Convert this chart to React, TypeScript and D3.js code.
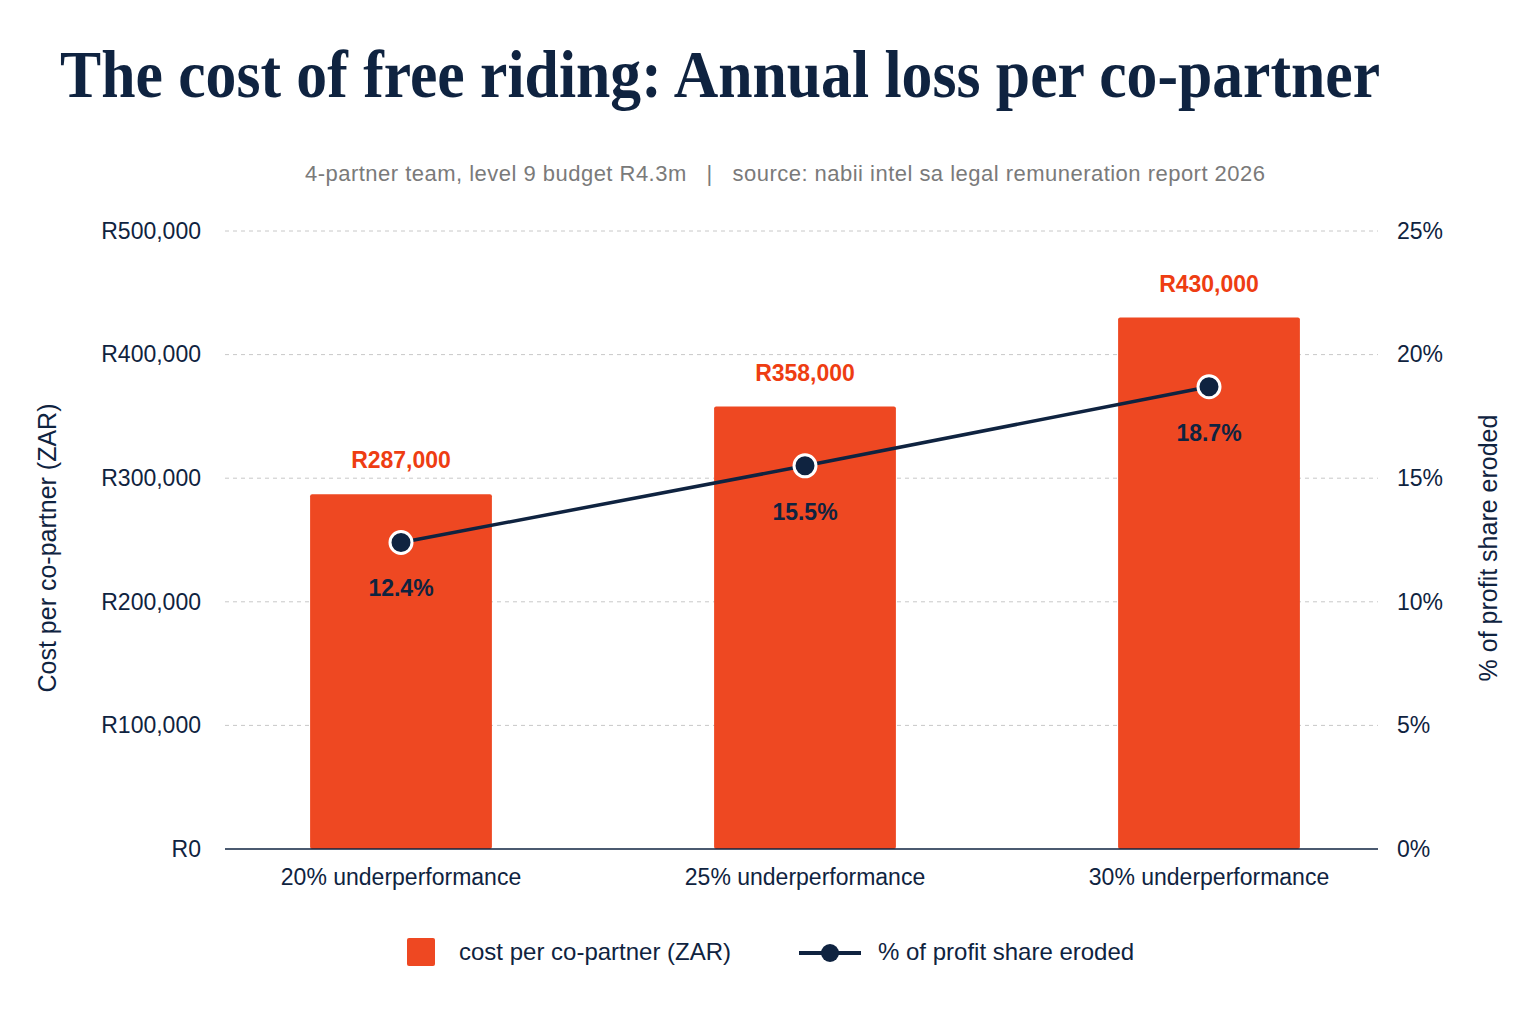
import React, { useRef, useEffect } from "react";
import { select, scaleBand, scaleLinear, axisLeft, axisRight, line } from "d3";

const categories = ["20% underperformance", "25% underperformance", "30% underperformance"];
const costValues = [287000, 358000, 430000];
const costLabels = ["R287,000", "R358,000", "R430,000"];
const erodedValues = [12.4, 15.5, 18.7];
const leftTicks = [0, 100000, 200000, 300000, 400000, 500000];
const rightTicks = [0, 5, 10, 15, 20, 25];

const W = 1536;
const H = 1024;
const NAVY = "#0f2340";
const ORANGE = "#ee4822";
const RED_TEXT = "#ee3d12";
const FONT = "'Liberation Sans', Arial, sans-serif";

const App: React.FC = () => {
  const svgRef = useRef<SVGSVGElement>(null);

  useEffect(() => {
    const svg = select(svgRef.current);
    svg.selectAll("*").remove();

    const x = scaleBand<string>().domain(categories).range([199, 1411])
      .paddingInner(0.55).paddingOuter(0.275);
    const y = scaleLinear().domain([0, 500000]).range([849, 231]);
    const y2 = scaleLinear().domain([0, 25]).range([849, 231]);

    // titles
    svg.append("text").attr("x", 60).attr("y", 97)
      .attr("textLength", 1320).attr("lengthAdjust", "spacingAndGlyphs")
      .style("font-family", "'Liberation Serif', 'DejaVu Serif', serif")
      .style("font-weight", 700).style("font-size", "68px").attr("fill", NAVY)
      .text("The cost of free riding: Annual loss per co-partner");
    svg.append("text").attr("x", 785).attr("y", 181).attr("text-anchor", "middle")
      .attr("textLength", 960).attr("lengthAdjust", "spacing")
      .style("font-family", FONT).style("font-size", "22px").attr("fill", "#7a7a7a")
      .attr("xml:space", "preserve")
      .text("4-partner team, level 9 budget R4.3m   |   source: nabii intel sa legal remuneration report 2026");

    // grid
    svg.append("g").selectAll("line").data(leftTicks.slice(1)).join("line")
      .attr("x1", 225).attr("x2", 1378).attr("y1", (d) => y(d)).attr("y2", (d) => y(d))
      .attr("stroke", "#c8c8c8").attr("stroke-dasharray", "4,4");

    // bars
    svg.append("g").selectAll("rect").data(costValues).join("rect")
      .attr("x", (_, i) => x(categories[i])!).attr("width", x.bandwidth())
      .attr("y", (d) => y(d)).attr("height", (d) => 849 - y(d))
      .attr("rx", 2).attr("fill", ORANGE);

    svg.append("g").selectAll("text").data(costValues).join("text")
      .attr("x", (_, i) => x(categories[i])! + x.bandwidth() / 2)
      .attr("y", (d) => y(d) - 26).attr("text-anchor", "middle")
      .style("font-family", FONT).style("font-weight", 700).style("font-size", "23px")
      .attr("fill", RED_TEXT).text((_, i) => costLabels[i]);

    // baseline
    svg.append("line").attr("x1", 225).attr("x2", 1378).attr("y1", 849).attr("y2", 849)
      .attr("stroke", NAVY).attr("stroke-width", 1.5);

    // axes
    const la = svg.append("g").attr("transform", "translate(201,0)")
      .call(axisLeft(y).tickValues(leftTicks).tickSize(0).tickPadding(0)
        .tickFormat((d) => "R" + (d as number).toLocaleString("en-US")));
    const ra = svg.append("g").attr("transform", "translate(1397,0)")
      .call(axisRight(y2).tickValues(rightTicks).tickSize(0).tickPadding(0)
        .tickFormat((d) => d + "%"));
    const xa = svg.append("g");
    xa.selectAll("text").data(categories).join("text")
      .attr("x", (d) => x(d)! + x.bandwidth() / 2).attr("y", 885).attr("text-anchor", "middle")
      .text((d) => d);
    [la, ra].forEach((a) => a.select(".domain").remove());
    [la, ra, xa].forEach((a) =>
      a.selectAll("text").style("font-family", FONT).style("font-size", "23px").attr("fill", NAVY));

    svg.append("text").attr("transform", "translate(56,548) rotate(-90)").attr("text-anchor", "middle")
      .style("font-family", FONT).style("font-size", "25px").attr("fill", NAVY)
      .text("Cost per co-partner (ZAR)");
    svg.append("text").attr("transform", "translate(1497,548) rotate(-90)").attr("text-anchor", "middle")
      .style("font-family", FONT).style("font-size", "25px").attr("fill", NAVY)
      .text("% of profit share eroded");

    // line
    const cx = (i: number) => x(categories[i])! + x.bandwidth() / 2;
    const pts = erodedValues.map((v, i) => [cx(i), y2(v)] as [number, number]);
    svg.append("path").attr("d", line()(pts)).attr("fill", "none")
      .attr("stroke", NAVY).attr("stroke-width", 3.5);
    svg.append("g").selectAll("circle").data(pts).join("circle")
      .attr("cx", (d) => d[0]).attr("cy", (d) => d[1]).attr("r", 11)
      .attr("fill", NAVY).attr("stroke", "#fff").attr("stroke-width", 3);
    svg.append("g").selectAll("text").data(pts).join("text")
      .attr("x", (d) => d[0]).attr("y", (d) => d[1] + 54).attr("text-anchor", "middle")
      .style("font-family", FONT).style("font-weight", 700).style("font-size", "23px")
      .attr("fill", NAVY).text((_, i) => erodedValues[i].toFixed(1) + "%");

    // legend
    const lg = svg.append("g");
    lg.append("rect").attr("x", 407).attr("y", 938).attr("width", 28).attr("height", 28)
      .attr("rx", 2).attr("fill", ORANGE);
    lg.append("text").attr("x", 459).attr("y", 960).text("cost per co-partner (ZAR)");
    lg.append("line").attr("x1", 799).attr("x2", 861).attr("y1", 953).attr("y2", 953)
      .attr("stroke", NAVY).attr("stroke-width", 4);
    lg.append("circle").attr("cx", 830).attr("cy", 953).attr("r", 9).attr("fill", NAVY);
    lg.append("text").attr("x", 878).attr("y", 960).text("% of profit share eroded");
    lg.selectAll("text").style("font-family", FONT).style("font-size", "24px").attr("fill", NAVY);
  }, []);

  return (
    <div style={{ position: "absolute", left: 0, top: 0 }}>
      <svg ref={svgRef} width={W} height={H} viewBox={`0 0 ${W} ${H}`}
        style={{ display: "block", background: "#fff" }} />
    </div>
  );
};

export default App;
